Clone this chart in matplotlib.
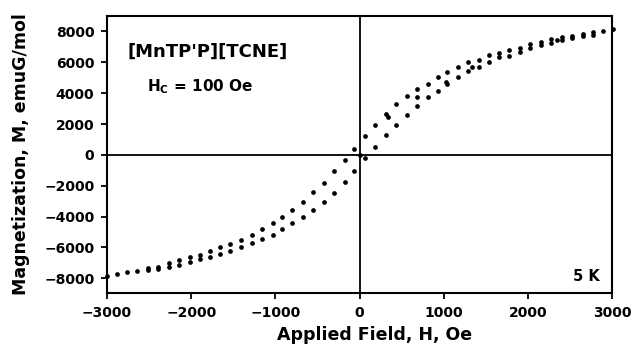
import matplotlib
matplotlib.use("Agg")
import matplotlib.pyplot as plt

# -------------------------
# Data (5 K)
# -------------------------
# descending branch (from +3000 Oe down to -3000 Oe)
desc_h = [3010, 2895, 2772, 2657, 2527, 2408, 2277, 2158, 2023, 1909,
          1782, 1663, 1540, 1420, 1290, 1175, 1042, 927, 812, 681,
          562, 432, 317, 182, 68, -68, -178, -307, -420, -556,
          -673, -800, -918, -1033, -1162, -1280, -1410, -1538, -1663, -1780,
          -1900, -2015, -2145, -2265, -2395, -2510, -2640, -2760, -2887, -3005]
desc_m = [8160, 8050, 7950, 7840, 7730, 7630, 7500, 7340, 7170, 6950,
          6800, 6630, 6480, 6175, 6000, 5720, 5360, 5075, 4620, 4277,
          3845, 3300, 2650, 1944, 1231, 410, -324, -1037, -1835, -2375,
          -3025, -3565, -4000, -4430, -4795, -5165, -5510, -5770, -6000, -6200,
          -6500, -6630, -6800, -7020, -7240, -7340, -7500, -7600, -7730, -7840]

# ascending branch (from -3000 Oe back up)
asc_h = [-2510, -2395, -2265, -2145, -2015, -1900, -1780, -1663, -1538, -1410,
         -1280, -1162, -1033, -918, -800, -673, -556, -420, -307, -178,
         -63, 0, 68, 182, 317, 333, 432, 562, 681, 681,
         812, 927, 1022, 1042, 1175, 1290, 1335, 1420, 1540, 1663,
         1782, 1909, 2023, 2158, 2277, 2348, 2408, 2527, 2657, 2772]
asc_m = [-7450, -7410, -7240, -7130, -6930, -6760, -6630, -6415, -6220, -5980,
         -5700, -5425, -5185, -4815, -4430, -4000, -3565, -3025, -2480, -1750,
         -1037, 0, -216, 500, 1296, 2480, 1944, 2570, 3200, 3740,
         3740, 4170, 4750, 4620, 5075, 5440, 5720, 5720, 6000, 6330,
         6430, 6690, 6950, 7100, 7280, 7450, 7430, 7560, 7730, 7800]

x_ticks = [-3000, -2000, -1000, 0, 1000, 2000, 3000]
y_ticks = [-8000, -6000, -4000, -2000, 0, 2000, 4000, 6000, 8000]

plt.rcParams['font.family'] = ['DejaVu Sans']
plt.rcParams['font.weight'] = 'bold'
plt.rcParams['mathtext.fontset'] = 'dejavusans'

fig = plt.figure(figsize=(6.35, 3.48), dpi=100)
ax = fig.add_axes([0.1685, 0.158, 0.7953, 0.796])

# end points sit on the frame, so don't clip them
ax.plot(desc_h, desc_m, 'o', color='black', ms=3.4, mew=0, clip_on=False)
ax.plot(asc_h, asc_m, 'o', color='black', ms=3.4, mew=0, clip_on=False)

ax.axhline(0, color='black', lw=1.3, zorder=0)
ax.axvline(0, color='black', lw=1.3, zorder=0)

ax.set_xlim(-3000, 3000)
ax.set_ylim(-8950, 9000)
ax.set_xticks(x_ticks)
ax.set_yticks(y_ticks)
ax.tick_params(direction='out', length=4, width=1.3, labelsize=10, pad=5)
for lbl in ax.get_xticklabels() + ax.get_yticklabels():
    lbl.set_fontweight('bold')
for sp in ax.spines.values():
    sp.set_linewidth(1.5)

ax.set_xlabel("Applied Field, H, Oe", fontsize=12.5, fontweight='bold', labelpad=5)
ax.xaxis.label.set_x(0.53)
ax.set_ylabel("Magnetization, M, emuG/mol", fontsize=12.5, fontweight='bold', labelpad=10)

ax.text(0.04, 0.87, "[MnTP'P][TCNE]", transform=ax.transAxes,
        fontsize=13, fontweight='bold', va='center', ha='left')
ax.text(0.08, 0.745, r"$\mathbf{H_C}$ = 100 Oe", transform=ax.transAxes,
        fontsize=11, fontweight='bold', va='center', ha='left')
ax.text(0.975, 0.06, "5 K", transform=ax.transAxes,
        fontsize=10.5, fontweight='bold', va='center', ha='right')

fig.savefig("out.png", dpi=100)
